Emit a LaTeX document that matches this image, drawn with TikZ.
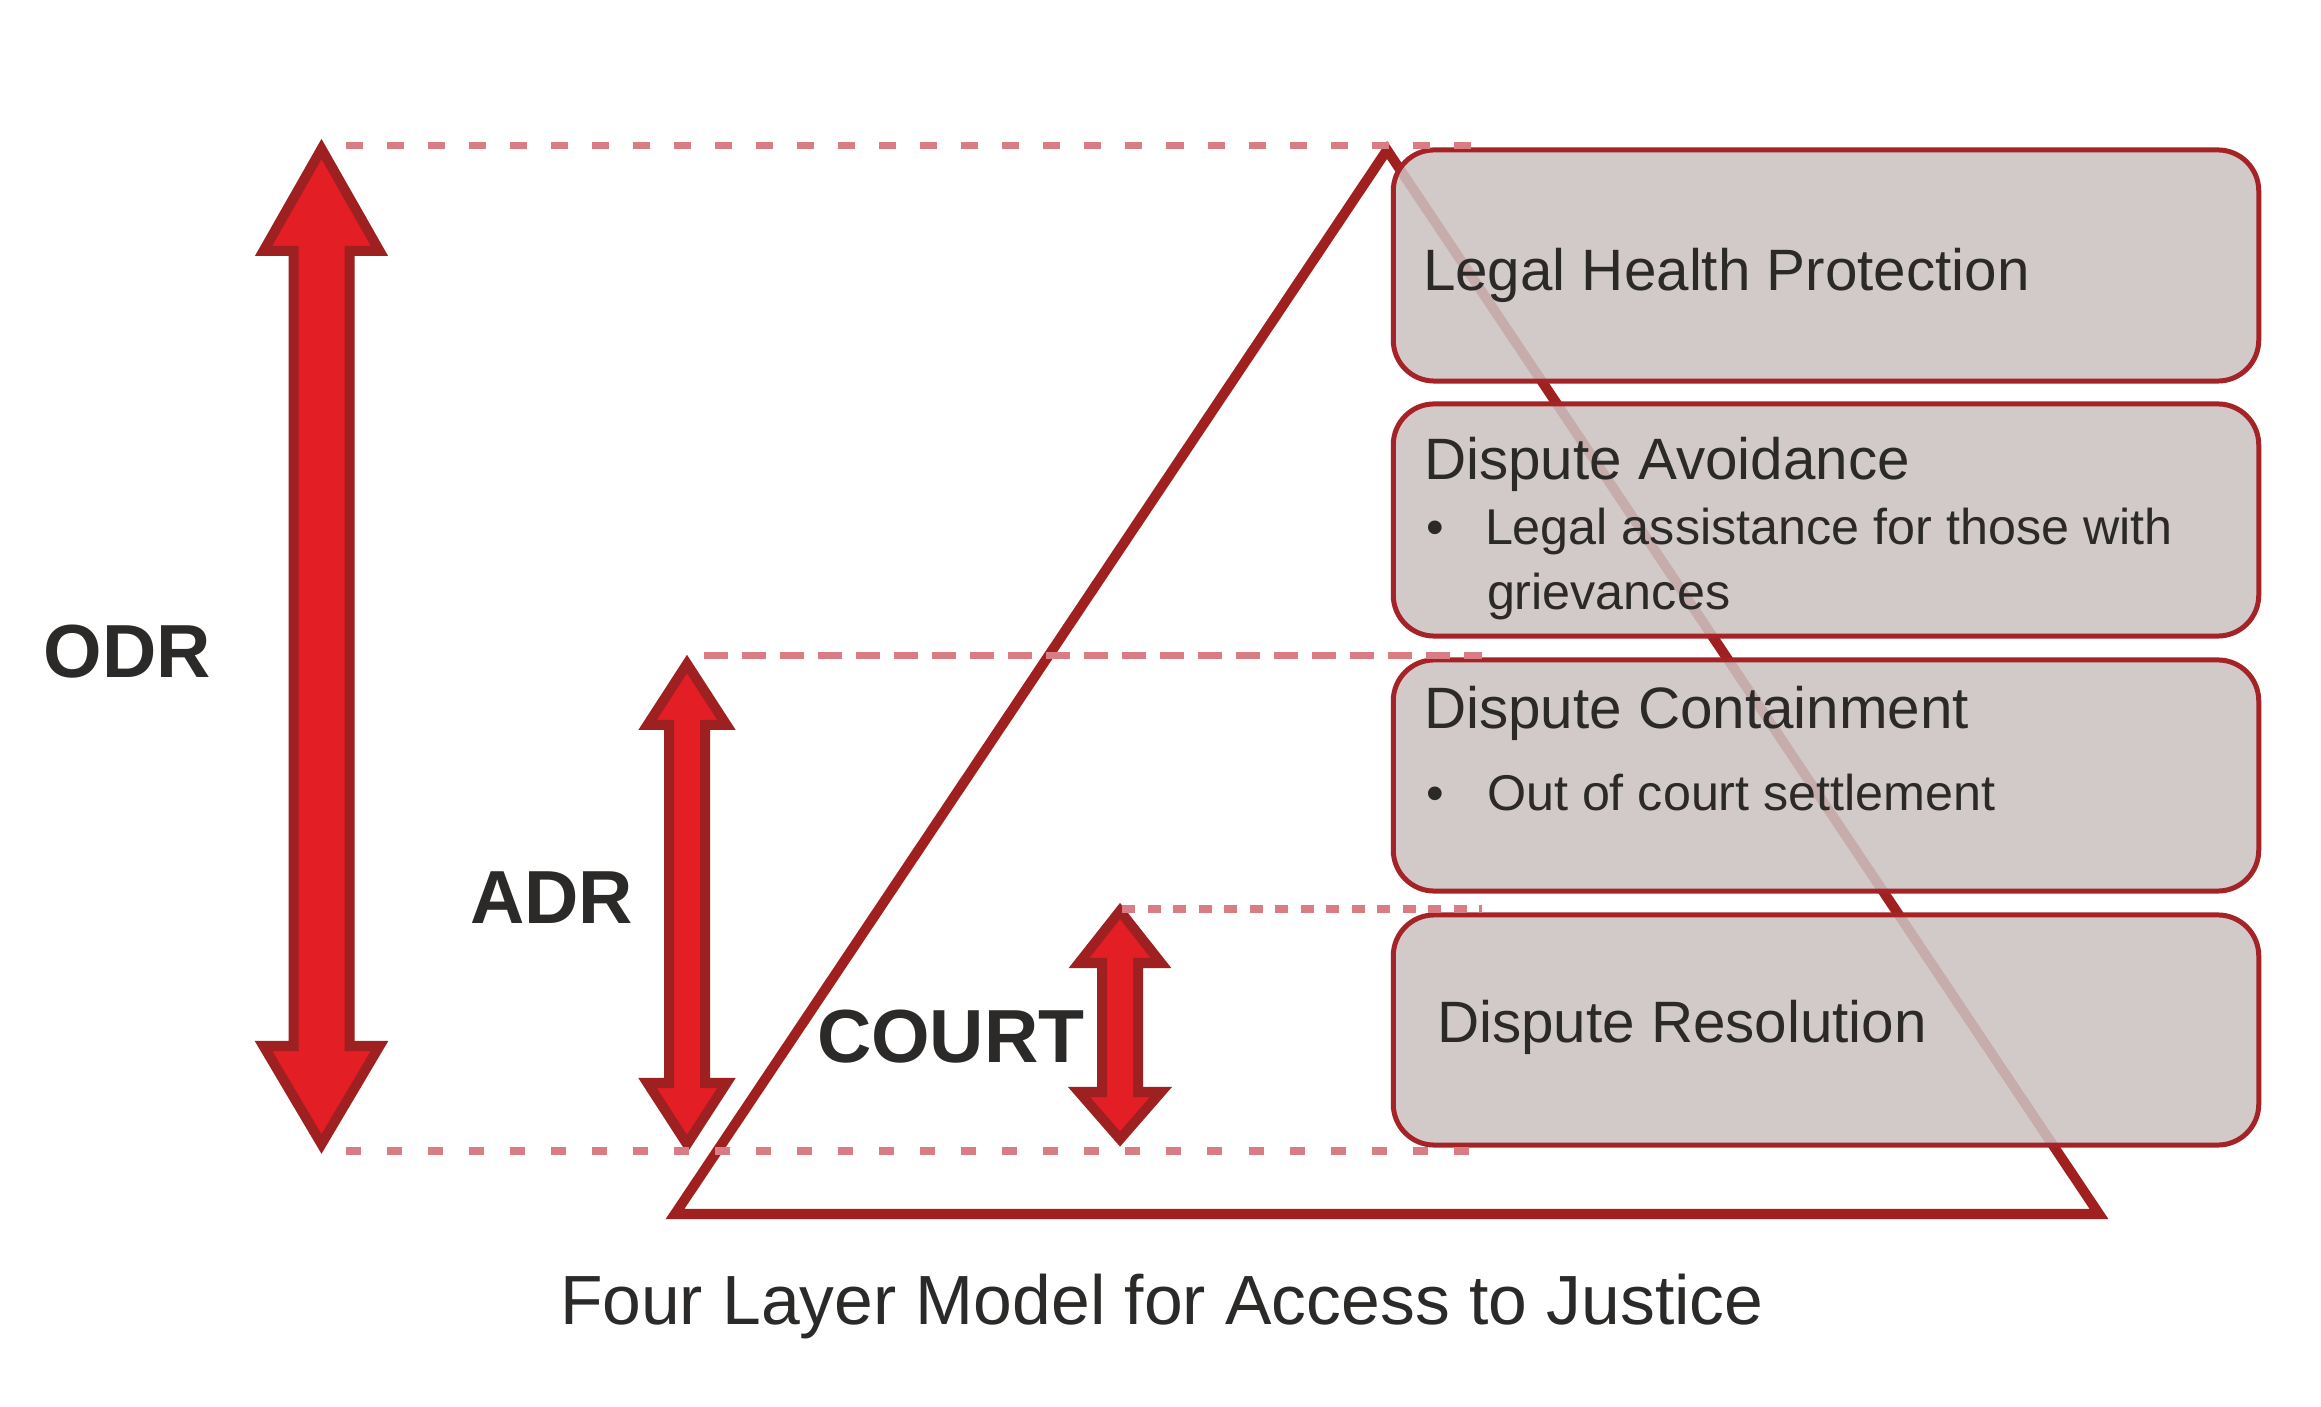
\documentclass[tikz,border=0pt]{standalone}
\usepackage{fontspec}
\setmainfont{Liberation Sans}
\definecolor{arrowfill}{RGB}{227,30,36}
\definecolor{arrowline}{RGB}{158,32,32}
\definecolor{darkred}{RGB}{160,32,31}
\definecolor{dashcol}{RGB}{217,124,132}
\definecolor{boxfill}{RGB}{204,195,194}
\definecolor{boxline}{RGB}{165,35,38}
\definecolor{txt}{RGB}{43,42,41}
\tikzset{
  blockarrow/.style={fill=arrowfill, draw=arrowline, line width=0.1cm, line join=miter, miter limit=20},
  tri/.style={draw=darkred, line width=0.1cm, line join=miter, miter limit=20},
  layerbox/.style={draw=boxline, line width=0.05cm, fill=boxfill, fill opacity=0.87, draw opacity=1,
     rounded corners=0.41cm, minimum width=8.65cm, inner sep=0pt, outer sep=0pt},
  guide/.style={draw=dashcol, line width=0.07cm},
  title/.style={anchor=base west, inner sep=0pt, outer sep=0pt, text=txt, font=\fontsize{16.6pt}{19pt}\selectfont},
  item/.style={anchor=base west, inner sep=0pt, outer sep=0pt, text=txt, font=\fontsize{14.3pt}{17pt}\selectfont},
  biglabel/.style={anchor=base west, inner sep=0pt, outer sep=0pt, text=txt, font=\fontsize{21.4pt}{25pt}\selectfont\bfseries},
  caption/.style={anchor=base west, inner sep=0pt, outer sep=0pt, text=txt, font=\fontsize{19.8pt}{23pt}\selectfont}
}
\begin{document}
\begin{tikzpicture}[x=0.01cm,y=-0.01cm]
\useasboundingbox[fill=white] (0,0) rectangle (2321,1407);

% pyramid
\draw[tri] (1387,150) -- (2099,1214) -- (675,1214) -- cycle;

% layer boxes
\node[layerbox, minimum height=2.31cm] (b1) at (1826,265.5) {};
\node[layerbox, minimum height=2.32cm] (b2) at (1826,520) {};
\node[layerbox, minimum height=2.31cm] (b3) at (1826,775.5) {};
\node[layerbox, minimum height=2.30cm] (b4) at (1826,1030) {};

% box texts
\node[title] (t1) at (1423,291) {Legal Health Protection};
\node[title] (t2) at (1424,479.6) {Dispute Avoidance};
\node[item] (u2) at (1426,545) {•};
\node[item] (i2a) at (1485,545) {Legal assistance for those with};
\node[item] (i2b) at (1487,610) {grievances};
\node[title] (t3) at (1424,728.6) {Dispute Containment};
\node[item] (u3) at (1426,811) {•};
\node[item] (i3) at (1487,811) {Out of court settlement};
\node[title] (t4) at (1437,1043) {Dispute Resolution};

% double block arrows
\draw[blockarrow] (321.5,149) -- (379.5,251) -- (349.5,251) -- (349.5,1046) -- (379.5,1046)
   -- (321.5,1144) -- (263.5,1046) -- (293.5,1046) -- (293.5,251) -- (263.5,251) -- cycle;
\draw[blockarrow] (687,664) -- (726.5,725) -- (705,725) -- (705,1083) -- (726.5,1083)
   -- (687,1144) -- (647.5,1083) -- (669,1083) -- (669,725) -- (647.5,725) -- cycle;
\draw[blockarrow] (1120,911) -- (1161,963) -- (1138,963) -- (1138,1092) -- (1161,1092)
   -- (1120,1139) -- (1079,1092) -- (1102,1092) -- (1102,963) -- (1079,963) -- cycle;

% dashed guide lines
\coordinate (g1a) at (346,146);  \coordinate (g1b) at (1482,146);
\coordinate (g2a) at (704,656);  \coordinate (g2b) at (1482,656);
\coordinate (g3a) at (1122,909); \coordinate (g3b) at (1482,909);
\coordinate (g4a) at (346,1151); \coordinate (g4b) at (1482,1151);
\draw[guide, dash pattern=on 0.17cm off 0.24cm] (g1a) -- (g1b);
\draw[guide, dash pattern=on 0.24cm off 0.14cm] (g2a) -- (g2b);
\draw[guide, dash pattern=on 0.13cm off 0.125cm] (g3a) -- (g3b);
\draw[guide, dash pattern=on 0.15cm off 0.26cm] (g4a) -- (g4b);

% labels
\node[biglabel] (odr) at (44,678) {ODR};
\node[biglabel] (adr) at (470,924) {ADR};
\node[biglabel] (court) at (817,1063) {COURT};
\node[caption] (cap) at (560,1324) {Four Layer Model for Access to Justice};
\end{tikzpicture}
\end{document}
